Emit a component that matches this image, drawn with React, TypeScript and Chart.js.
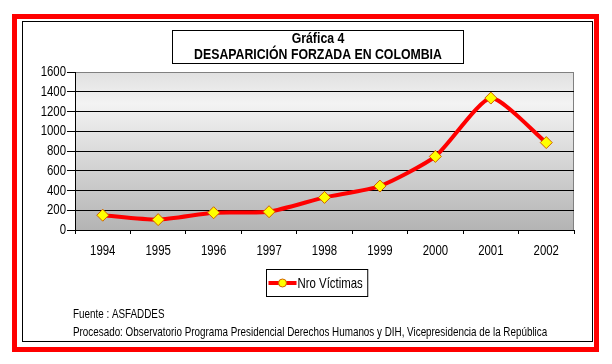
import React, { useEffect, useRef } from "react";
import { Chart, registerables } from "chart.js";

Chart.register(...registerables);

const years = ["1994", "1995", "1996", "1997", "1998", "1999", "2000", "2001", "2002"];
const victims = [150, 105, 175, 185, 330, 445, 745, 1336, 885];
const yMin = 0;
const yMax = 1600;
const yStep = 200;
const titleLines = ["Gráfica 4", "DESAPARICIÓN FORZADA EN COLOMBIA"];
const seriesLabel = "Nro Víctimas";
const footerLines = [
  "Fuente : ASFADDES",
  "Procesado: Observatorio Programa Presidencial Derechos Humanos y DIH, Vicepresidencia de la República",
];

const FONT = "'Liberation Sans', Arial, sans-serif";

function narrowText(
  ctx: CanvasRenderingContext2D,
  text: string,
  x: number,
  y: number,
  size: number,
  align: CanvasTextAlign,
  sx: number,
  bold = false
) {
  ctx.save();
  ctx.font = `${bold ? "bold " : ""}${size}px ${FONT}`;
  ctx.textAlign = align;
  ctx.textBaseline = "middle";
  ctx.fillStyle = "#000000";
  ctx.translate(x, y);
  ctx.scale(sx, 1);
  ctx.fillText(text, 0, 0);
  ctx.restore();
}

function narrowWidth(ctx: CanvasRenderingContext2D, text: string, size: number, sx: number) {
  ctx.save();
  ctx.font = `${size}px ${FONT}`;
  const w = ctx.measureText(text).width * sx;
  ctx.restore();
  return w;
}

const decorPlugin = {
  id: "decor",
  beforeDraw(chart: any) {
    const { ctx, chartArea } = chart;
    ctx.save();
    ctx.fillStyle = "#ffffff";
    ctx.fillRect(0, 0, chart.width, chart.height);
    const { left, top, right, bottom } = chartArea;
    const g = ctx.createLinearGradient(0, top, 0, bottom);
    g.addColorStop(0, "#e0e0e0");
    g.addColorStop(0.2, "#f3f3f3");
    g.addColorStop(1, "#b4b4b4");
    ctx.fillStyle = g;
    ctx.fillRect(left, top, right - left, bottom - top);
    ctx.strokeStyle = "#808080";
    ctx.lineWidth = 1;
    ctx.beginPath();
    ctx.moveTo(left, top + 0.5);
    ctx.lineTo(right - 0.5, top + 0.5);
    ctx.lineTo(right - 0.5, bottom);
    ctx.stroke();
    ctx.restore();
  },
  afterDraw(chart: any) {
    const { ctx } = chart;
    ctx.save();
    ctx.strokeStyle = "#ff0000";
    ctx.lineWidth = 5;
    ctx.strokeRect(14.5, 16.5, 582, 333);
    ctx.strokeStyle = "#000000";
    ctx.lineWidth = 1;
    ctx.strokeRect(22.5, 21.5, 570, 320);

    const xs = chart.scales.x;
    xs.ticks.forEach((t: any, i: number) => {
      narrowText(ctx, String(xs.getLabelForValue(t.value)), xs.getPixelForTick(i), 251, 15, "center", 0.76);
    });
    const ys = chart.scales.y;
    ys.ticks.forEach((t: any) => {
      narrowText(ctx, String(t.value), 66, ys.getPixelForValue(t.value), 15, "right", 0.76);
    });

    ctx.fillStyle = "#ffffff";
    ctx.fillRect(172, 30, 291, 33);
    ctx.strokeStyle = "#000000";
    ctx.lineWidth = 1;
    ctx.strokeRect(172.5, 30.5, 291, 33);
    narrowText(ctx, titleLines[0], 318, 39, 15, "center", 0.82, true);
    narrowText(ctx, titleLines[1], 318, 55, 15, "center", 0.82, true);

    const ds = chart.data.datasets[0];
    const tw = narrowWidth(ctx, ds.label, 15, 0.76);
    const bx = 266.5;
    const by = 269.5;
    const bw = 30 + tw + 6;
    const bh = 27;
    ctx.fillStyle = "#ffffff";
    ctx.fillRect(bx, by, bw, bh);
    ctx.strokeStyle = "#000000";
    ctx.lineWidth = 1;
    ctx.strokeRect(bx, by, bw, bh);
    const cy = by + bh / 2;
    ctx.strokeStyle = ds.borderColor;
    ctx.lineWidth = 4;
    ctx.beginPath();
    ctx.moveTo(bx + 2, cy);
    ctx.lineTo(bx + 30, cy);
    ctx.stroke();
    ctx.fillStyle = ds.pointBackgroundColor;
    ctx.strokeStyle = ds.pointBorderColor;
    ctx.lineWidth = 1;
    ctx.beginPath();
    ctx.arc(bx + 16, cy, 4, 0, Math.PI * 2);
    ctx.fill();
    ctx.stroke();
    narrowText(ctx, ds.label, bx + 31, cy + 1, 15, "left", 0.76);

    narrowText(ctx, footerLines[0], 73, 314, 13.5, "left", 0.73);
    narrowText(ctx, footerLines[1], 73, 332, 13.5, "left", 0.73);
    ctx.restore();
  },
};

export default function App() {
  const ref = useRef<HTMLCanvasElement | null>(null);

  useEffect(() => {
    if (!ref.current) return;
    const chart = new Chart(ref.current, {
      type: "line",
      data: {
        labels: years,
        datasets: [
          {
            label: seriesLabel,
            data: victims,
            borderColor: "#ff0000",
            borderWidth: 4,
            tension: 0.2,
            pointStyle: "rectRot",
            pointRadius: 6,
            pointBackgroundColor: "#ffff00",
            pointBorderColor: "#d06000",
            pointBorderWidth: 1,
            fill: false,
          },
        ],
      },
      options: {
        responsive: false,
        animation: false,
        devicePixelRatio: 1,
        layout: {
          autoPadding: false,
          padding: { left: 0, top: 72, right: 38, bottom: 104 },
        },
        plugins: {
          legend: { display: false },
          title: { display: false },
          tooltip: { enabled: false },
        },
        scales: {
          x: {
            offset: true,
            afterFit: (s: any) => {
              s.height = 30;
            },
            grid: {
              offset: true,
              drawOnChartArea: false,
              drawTicks: true,
              tickLength: 4,
              color: "#000000",
            },
            border: { display: true, color: "#000000", width: 1 },
            ticks: { display: false, autoSkip: false },
          },
          y: {
            min: yMin,
            max: yMax,
            afterFit: (s: any) => {
              s.width = 75;
            },
            grid: {
              color: (c: any) => (c.tick && c.tick.value === yMax ? "#808080" : "#000000"),
              tickColor: "#000000",
              tickLength: 8,
              lineWidth: 1,
            },
            border: { display: true, color: "#000000", width: 1 },
            ticks: { display: false, stepSize: yStep, autoSkip: false },
          },
        },
      },
      plugins: [decorPlugin],
    });
    return () => chart.destroy();
  }, []);

  return (
    <div style={{ position: "fixed", left: 0, top: 0, width: 612, height: 364, background: "#fff" }}>
      <canvas ref={ref} width={612} height={364} style={{ width: 612, height: 364, display: "block" }} />
    </div>
  );
}
